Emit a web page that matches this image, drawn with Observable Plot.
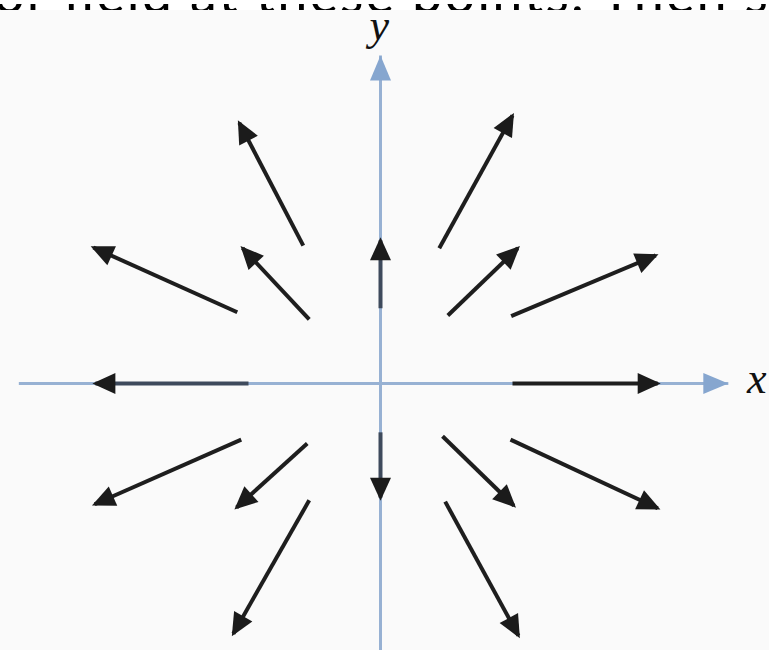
<!DOCTYPE html>
<html><head><meta charset="utf-8">
<script src="https://cdn.jsdelivr.net/npm/d3@7"></script>
<script src="https://cdn.jsdelivr.net/npm/@observablehq/plot@0.6"></script>
<style>
html,body{margin:0;padding:0;background:#fafafa;}
#wrap{position:relative;width:769px;height:650px;overflow:hidden;}
#head{position:absolute;left:0;top:0;width:769px;height:10px;overflow:hidden;background:#fff;}
#chart{position:absolute;left:0;top:0;}
</style></head>
<body>
<div id="wrap"><div id="chart"></div><div id="head"><svg width="769" height="10"><text x="-6" y="9" font-family="Lato" font-size="54" fill="#000" textLength="774" lengthAdjust="spacing">or field at these points. Then s</text></svg></div></div>
<script>
// Vector field arrows: tail (x1,y1) and tip (x2,y2), in axis units
const tailX = [-1.17, -1.08, -2.17, 0.00, 0.89, 1.02, 1.98, 2.00, -2.00, -2.11, -1.11, -1.08, 0.00, 0.94, 1.97, 0.98];
const tailY = [ 2.09,  0.97,  1.08, 1.14, 2.05, 1.03, 1.02, 0.00,  0.00, -0.85, -0.91, -1.77, -0.74, -0.80, -0.85, -1.79];
const tipX  = [-2.14, -2.09, -4.35, 0.00, 2.00, 2.08, 4.17, 4.20, -4.32, -4.33, -2.18, -2.23, 0.00, 2.02, 4.20, 2.09];
const tipY  = [ 3.95,  2.05,  2.06, 2.17, 4.06, 2.05, 1.94, 0.00,  0.00, -1.83, -1.88, -3.79, -1.73, -1.85, -1.89, -3.82];

// Coordinate axes (start and arrow tip)
const axisX1 = [-5.48, 0.00];
const axisY1 = [ 0.00, -4.10];
const axisX2 = [ 5.27, 0.00];
const axisY2 = [ 0.00, 4.97];
const axisNames = ["x", "y"];

const arrows = tailX.map((_, i) => ({x1: tailX[i], y1: tailY[i], x2: tipX[i], y2: tipY[i]}));
const axes = axisX1.map((_, i) => ({x1: axisX1[i], y1: axisY1[i], x2: axisX2[i], y2: axisY2[i], name: axisNames[i]}));

function makeHead(fillColor, len, wid, over) {
  return (color, context) => {
    const ns = "http://www.w3.org/2000/svg";
    const doc = context.document;
    const m = doc.createElementNS(ns, "marker");
    m.setAttribute("viewBox", `${over - len} ${-wid / 2} ${len} ${wid}`);
    m.setAttribute("markerWidth", len);
    m.setAttribute("markerHeight", wid);
    m.setAttribute("markerUnits", "userSpaceOnUse");
    m.setAttribute("orient", "auto");
    m.setAttribute("refX", 0);
    m.setAttribute("refY", 0);
    m.setAttribute("overflow", "visible");
    const p = doc.createElementNS(ns, "path");
    p.setAttribute("d", `M${over},0L${over - len},${-wid / 2}L${over - len},${wid / 2}Z`);
    p.setAttribute("fill", fillColor);
    p.setAttribute("stroke", "none");
    m.appendChild(p);
    return m;
  };
}

const U = 66, OX = 380, OY = 383;
const onAxis = d => d.x1 === 0 || d.y1 === 0;

const chart = Plot.plot({
  width: 769,
  height: 650,
  margin: 0,
  style: {background: "#fafafa", overflow: "visible"},
  x: {domain: [-6, 6], range: [OX - 6 * U, OX + 6 * U], axis: null},
  y: {domain: [-6, 6], range: [OY + 6 * U, OY - 6 * U], axis: null},
  marks: [
    Plot.link(axes, {x1: "x1", y1: "y1", x2: "x2", y2: "y2", stroke: "#97b1d3", strokeWidth: 3,
      markerEnd: makeHead("#86a6cf", 25, 21, 0)}),
    Plot.link(arrows, {x1: "x1", y1: "y1", x2: "x2", y2: "y2",
      stroke: d => onAxis(d) && !(d.y1 === 0 && d.x1 > 0) ? "#3e4a5c" : "#1e1e1e",
      strokeWidth: 4, markerEnd: makeHead("#1b1b1b", 23, 21, 3)}),
    Plot.text(axes, {x: d => d.name === "x" ? d.x2 + 0.43 : d.x2 - 0.02,
      y: d => d.name === "x" ? d.y2 + 0.07 : d.y2 + 0.45,
      text: "name", fontFamily: "Liberation Serif", fontStyle: "italic", fontSize: 44, fill: "#111"})
  ]
});
document.getElementById("chart").appendChild(chart);
</script>
</body></html>
